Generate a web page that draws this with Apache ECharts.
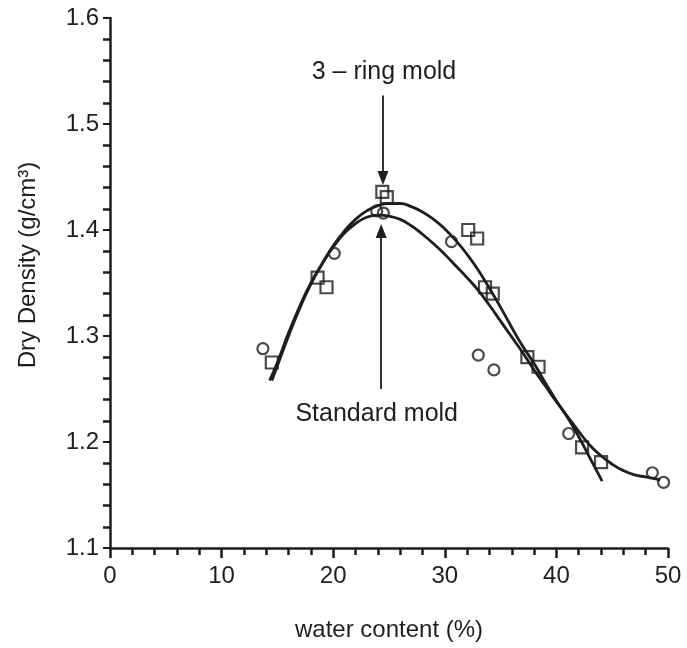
<!DOCTYPE html>
<html>
<head>
<meta charset="utf-8">
<script src="https://cdn.jsdelivr.net/npm/echarts@6/dist/echarts.min.js"></script>
<style>
html,body{margin:0;padding:0;background:#fff;}
#c{width:687px;height:648px;}
</style>
</head>
<body>
<div id="c"></div>
<script>
// Tick labels
const xTicks = [0, 10, 20, 30, 40, 50];
const yTicks = [1.1, 1.2, 1.3, 1.4, 1.5, 1.6];

// Measured points: Standard mold (circles)
const standardPts = [
  [13.7, 1.288], [20.1, 1.378], [23.9, 1.418], [24.5, 1.416], [30.6, 1.389],
  [33.0, 1.282], [34.4, 1.268], [41.1, 1.208], [48.6, 1.171], [49.6, 1.162]
];
// Measured points: 3-ring mold (squares)
const ringPts = [
  [14.5, 1.275], [18.6, 1.355], [19.4, 1.346], [24.4, 1.436], [24.8, 1.431],
  [32.1, 1.400], [32.9, 1.392], [33.6, 1.346], [34.3, 1.340], [37.4, 1.280],
  [38.4, 1.271], [42.3, 1.195], [44.0, 1.181]
];
// Fitted curve: Standard mold
const standardCurve = [
  [14.3, 1.258], [15, 1.275], [16, 1.303], [17, 1.328], [18, 1.350], [19, 1.368],
  [20, 1.384], [21, 1.397], [22, 1.406], [23, 1.412], [24, 1.414], [25, 1.413],
  [26, 1.410], [27, 1.404], [28, 1.396], [29, 1.387], [30, 1.377], [31, 1.366],
  [32, 1.355], [33, 1.343], [34, 1.329], [35, 1.314], [36, 1.299], [37, 1.284],
  [38, 1.268], [39, 1.253], [40, 1.238], [41, 1.224], [42, 1.210], [43, 1.197],
  [44, 1.187], [45, 1.179], [46, 1.173], [47, 1.169], [48, 1.167], [49, 1.165],
  [49.3, 1.164]
];
// Fitted curve: 3-ring mold
const ringCurve = [
  [14.5, 1.258], [15, 1.272], [16, 1.300], [17, 1.326], [18, 1.349], [19, 1.368],
  [20, 1.385], [21, 1.399], [22, 1.410], [23, 1.418], [24, 1.423], [25, 1.425],
  [26, 1.425], [27, 1.422], [28, 1.417], [29, 1.410], [30, 1.401], [31, 1.390],
  [32, 1.377], [33, 1.362], [34, 1.345], [35, 1.327], [36, 1.308], [37, 1.290],
  [38, 1.274], [39, 1.256], [40, 1.239], [41, 1.223], [42, 1.205], [43, 1.185],
  [44.1, 1.163]
];
// Annotation anchors (data coords)
const ringArrow = [[24.46, 1.527], [24.46, 1.449]];
const stdArrow = [[24.3, 1.250], [24.3, 1.399]];
const ringLabel = {text: '3 – ring mold', at: [24.55, 1.549]};
const stdLabel = {text: 'Standard mold', at: [23.9, 1.226]};

const FONT = '"Liberation Sans", Arial, sans-serif';
const INK = '#1e1e1e';

const chart = echarts.init(document.getElementById('c'), null, {renderer: 'canvas'});
const option = {
  backgroundColor: '#fff',
  animation: false,
  grid: {left: 110, right: 19, top: 18, bottom: 100, containLabel: false},
  xAxis: {
    type: 'value', min: xTicks[0], max: xTicks[xTicks.length - 1], interval: 10,
    name: 'water content (%)', nameLocation: 'middle', nameGap: 70,
    nameTextStyle: {fontFamily: FONT, fontSize: 24, color: INK},
    axisLine: {show: true, onZero: false, lineStyle: {color: INK, width: 2.5}},
    axisTick: {show: true, inside: false, length: 10, lineStyle: {color: INK, width: 2.5}},
    minorTick: {show: true, splitNumber: 5, length: 7, lineStyle: {color: INK, width: 2.5}},
    axisLabel: {fontFamily: FONT, fontSize: 24, color: INK, margin: 16},
    splitLine: {show: false}, minorSplitLine: {show: false}
  },
  yAxis: {
    type: 'value', min: yTicks[0], max: yTicks[yTicks.length - 1], interval: 0.1,
    name: 'Dry Density (g/cm³)', nameLocation: 'middle', nameGap: 70,
    nameTextStyle: {fontFamily: FONT, fontSize: 24, color: INK, padding: [0, 0, 0, 36]},
    axisLine: {show: true, onZero: false, lineStyle: {color: INK, width: 2.5}},
    axisTick: {show: true, inside: false, length: 7, lineStyle: {color: INK, width: 2}},
    minorTick: {show: true, splitNumber: 5, length: 7, lineStyle: {color: INK, width: 2.5}},
    axisLabel: {fontFamily: FONT, fontSize: 24, color: INK, margin: 11,
      formatter: v => v.toFixed(1)},
    splitLine: {show: false}, minorSplitLine: {show: false}
  },
  series: [
    {
      type: 'line', data: standardCurve, smooth: true, showSymbol: false, silent: true,
      lineStyle: {color: INK, width: 2.8}, z: 2,
      markLine: {
        silent: true, symbol: ['none', 'triangle'], symbolSize: [11, 14],
        lineStyle: {color: INK, width: 1.8, type: 'solid'}, label: {show: false},
        data: [[{coord: stdArrow[0]}, {coord: stdArrow[1]}], [{coord: ringArrow[0]}, {coord: ringArrow[1]}]]
      }
    },
    {
      type: 'line', data: ringCurve, smooth: true, showSymbol: false, silent: true,
      lineStyle: {color: INK, width: 2.8}, z: 2
    },
    {
      type: 'scatter', data: standardPts, symbol: 'circle', symbolSize: 11,
      itemStyle: {color: 'rgba(0,0,0,0)', borderColor: INK, borderWidth: 2.2}, z: 3
    },
    {
      type: 'scatter', data: ringPts, symbol: 'rect', symbolSize: 12,
      itemStyle: {color: 'rgba(0,0,0,0)', borderColor: INK, borderWidth: 2.2}, z: 3
    }
  ]
};
chart.setOption(option);

function placeLabels() {
  const p1 = chart.convertToPixel({gridIndex: 0}, ringLabel.at);
  const p2 = chart.convertToPixel({gridIndex: 0}, stdLabel.at);
  chart.setOption({
    graphic: [
      {type: 'text', x: p1[0], y: p1[1], style: {text: ringLabel.text, fontFamily: FONT, fontSize: 25,
        fill: INK, align: 'center', verticalAlign: 'middle'}},
      {type: 'text', x: p2[0], y: p2[1], style: {text: stdLabel.text, fontFamily: FONT, fontSize: 25,
        fill: INK, align: 'center', verticalAlign: 'middle'}}
    ]
  });
}
placeLabels();
</script>
</body>
</html>
